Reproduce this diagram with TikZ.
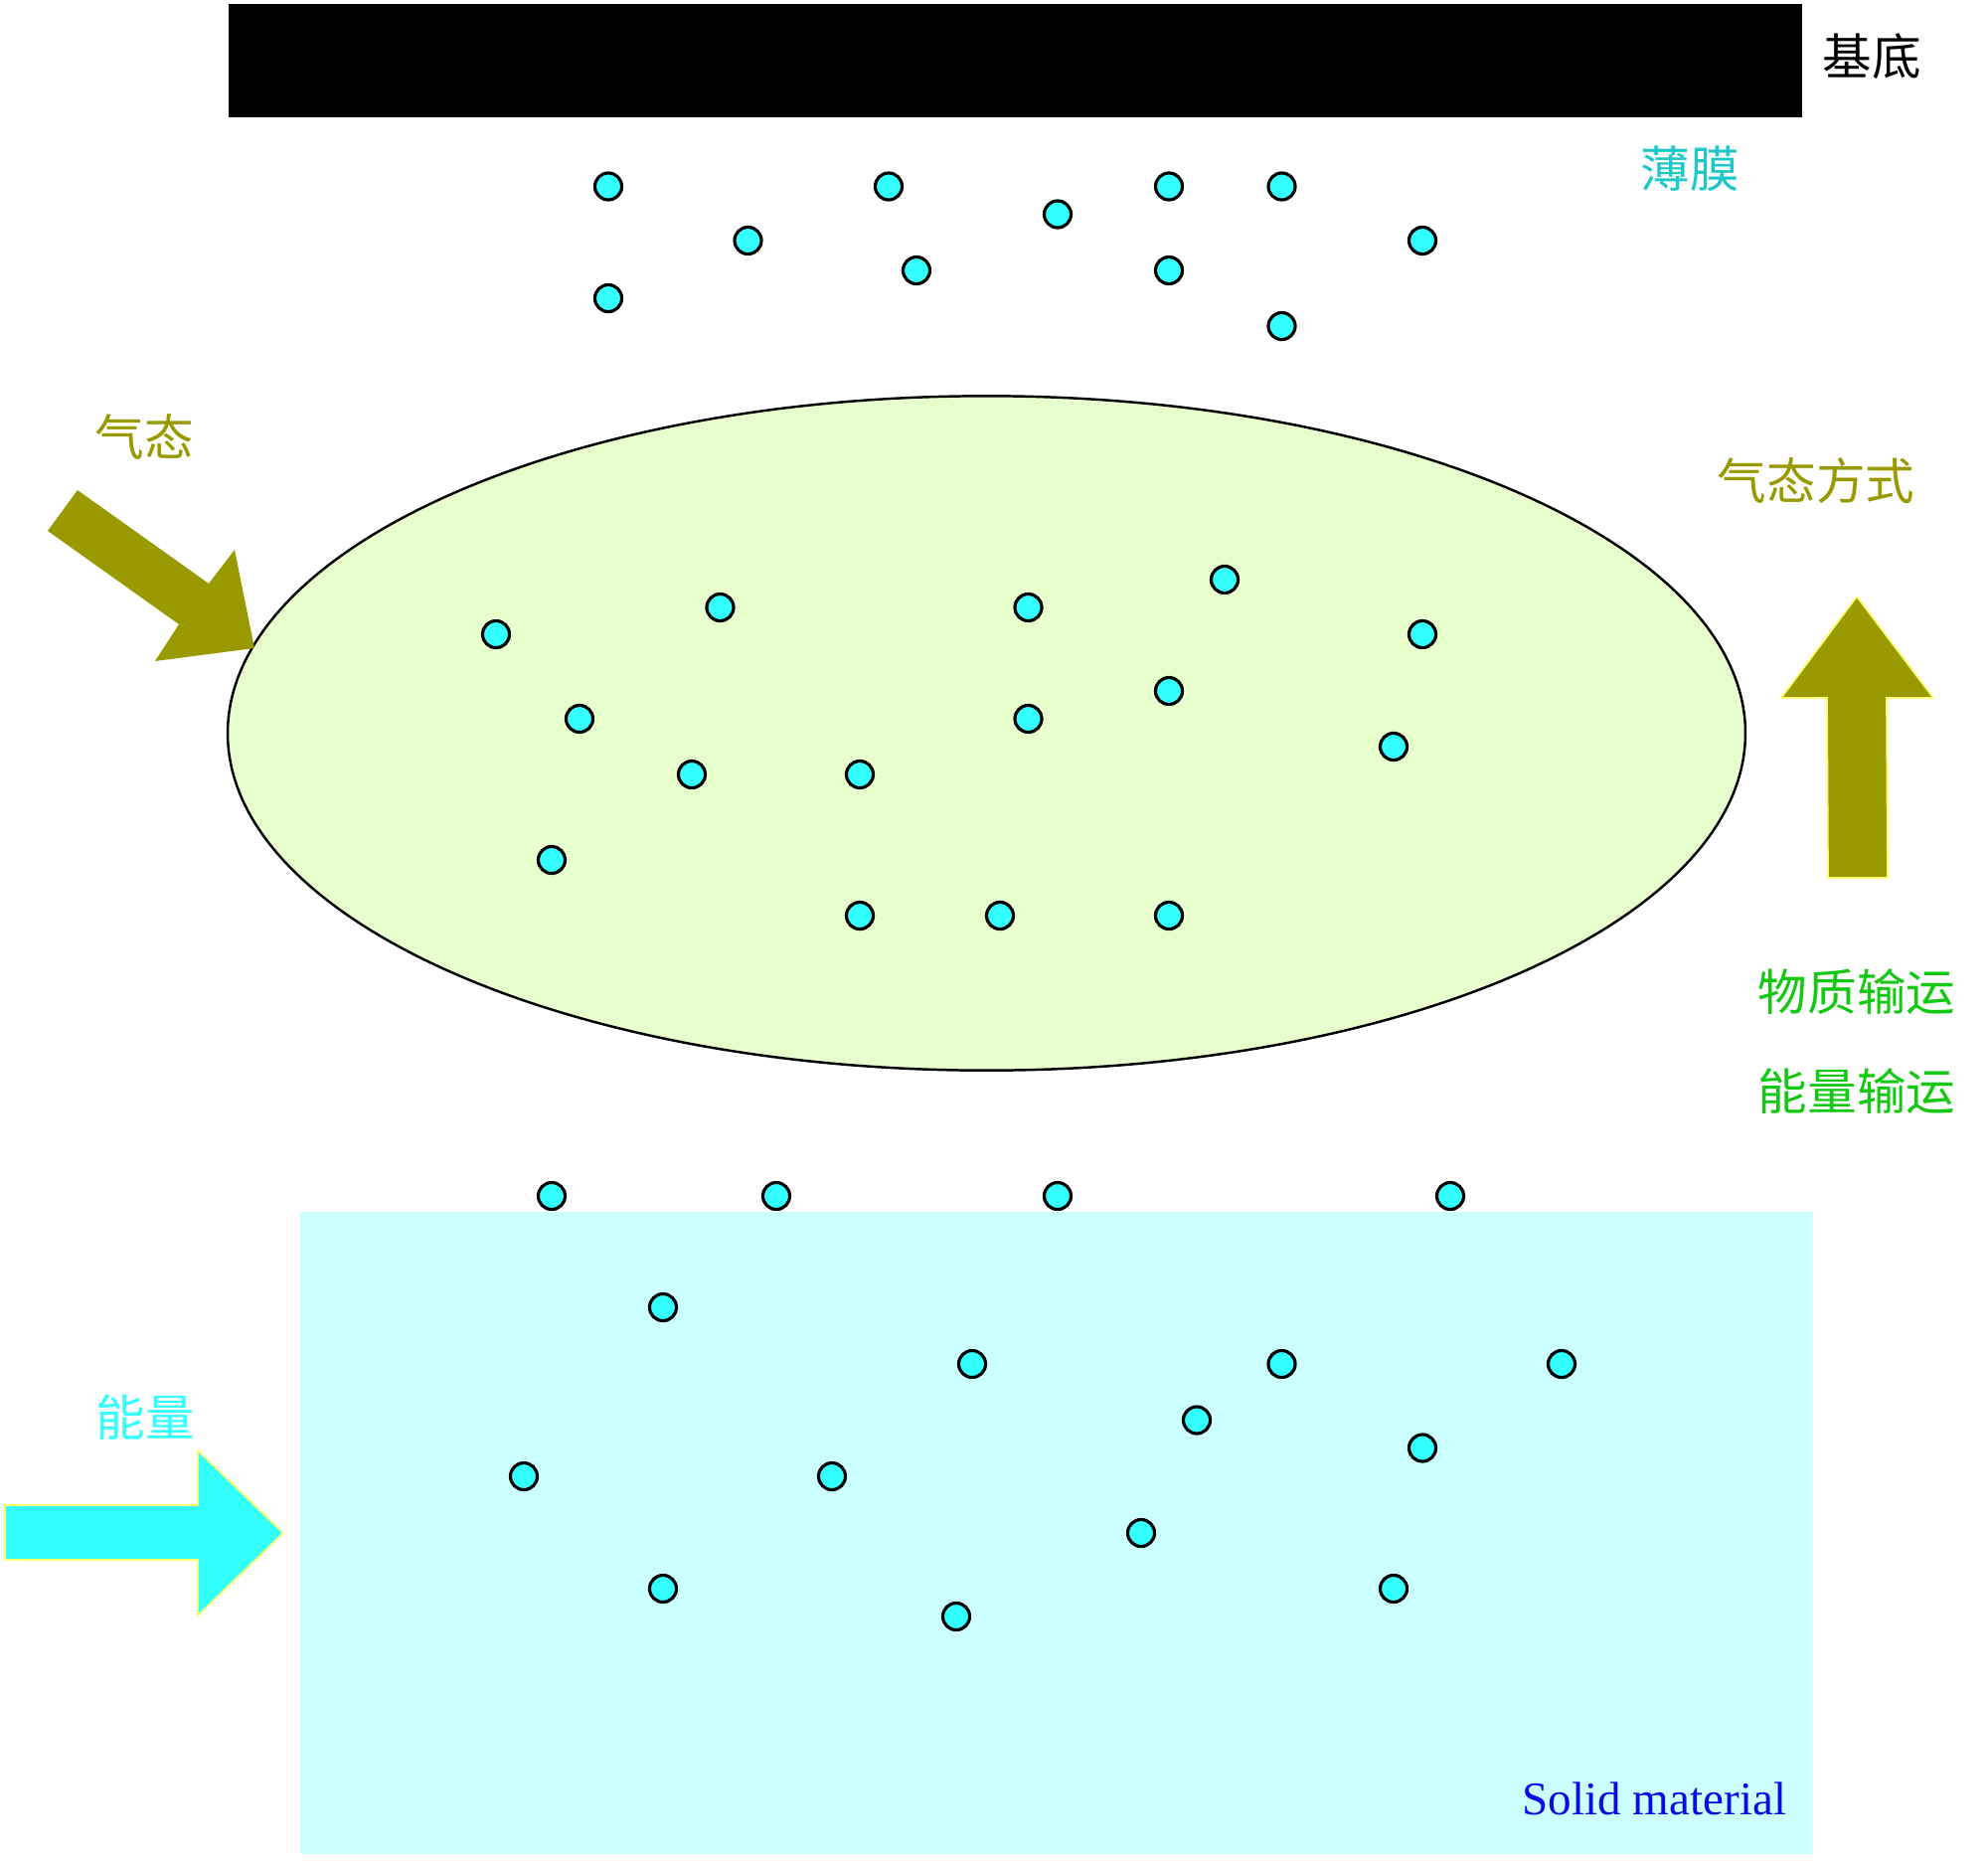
\documentclass[tikz,border=0pt]{standalone}
\usepackage{fontspec}
\setmainfont{Liberation Serif}
\newfontfamily\cjk{Noto Sans CJK SC}
\usepackage{tikz}
\usetikzlibrary{positioning}
\definecolor{olivearrow}{RGB}{153,153,0}
\definecolor{particle}{RGB}{51,255,255}
\definecolor{gasfill}{RGB}{230,255,204}
\definecolor{solidfill}{RGB}{204,255,255}
\definecolor{filmtext}{RGB}{30,200,200}
\definecolor{transtext}{RGB}{20,200,20}
\definecolor{edgeyellow}{RGB}{255,255,110}
\definecolor{solidblue}{RGB}{10,10,230}

\begin{document}
\begin{tikzpicture}[x=0.01cm, y=-0.01cm, cjktext/.style={font=\cjk\fontsize{14.1pt}{17pt}\selectfont, inner sep=0pt}, atom/.style={fill=particle, draw=black, line width=0.9pt}, bigarrow/.style={draw=edgeyellow, line width=0.5pt}]
		\useasboundingbox (0,0) rectangle (2000,1875);
		% substrate, gas cloud and solid source
		\fill[black] (230,4) rectangle (1813,118);
		\fill[solidfill] (302,1219) rectangle (1824,1865);
		\draw[fill=gasfill, line width=0.7pt] (992.5,737.5) ellipse [x radius=7.63cm, y radius=3.39cm];
		% particles
		\foreach \p in {(612,187.5),(894,187.5),(1176,187.5),(1289.5,187.5),(752.5,242),(1064,215.5),(1431,242),(922,272),(1176,272),(612,300),(1289.5,328)}
			\draw[atom] \p circle[radius=0.135cm];
		\foreach \p in {(499,638),(724.5,611),(1034.5,611),(1232,583),(1431,638),(583,723),(696,779),(865,779),(1034.5,723),(1176,695),(1402,751),(555,865),(865,921),(1006,921),(1176,921)}
			\draw[atom] \p circle[radius=0.135cm];
		\foreach \p in {(555,1203),(781,1203),(1064,1203),(1459,1203),(667,1315),(978,1372),(1289.5,1372),(1571,1372),(1204,1428.5),(1431,1456.5),(527,1485),(837,1485),(1148,1542),(667,1598),(1402,1598),(962,1626)}
			\draw[atom] \p circle[radius=0.135cm];
		% arrows
		\fill[olivearrow] (78,493) -- (210,587) -- (236,553) -- (256,652) -- (156,665) -- (180,628) -- (48,534) -- cycle;
		\draw[bigarrow, fill=olivearrow] (1839,883) -- (1838,702) -- (1792,702) -- (1868,600) -- (1945,702) -- (1898,702) -- (1899,883) -- cycle;
		\draw[bigarrow, fill=particle] (5,1514) -- (199,1514) -- (199,1459) -- (285,1542) -- (199,1625) -- (199,1569) -- (5,1569) -- cycle;
		% labels
		\node[cjktext] (substrate) at (1883,57) {基底};
		\node[cjktext, text=filmtext] (film) at (1700,170) {薄膜};
		\node[cjktext, text=olivearrow] (gas) at (145,440) {气态};
		\node[cjktext, text=olivearrow] (gasmode) at (1827,484) {气态方式};
		\node[cjktext, text=transtext] (mass) at (1868,998) {物质输运};
		\node[cjktext, text=transtext] (heat) at (1868,1098) {能量输运};
		\node[cjktext, text=particle] (energy) at (146,1426) {能量};
		\node[font=\fontsize{13.4pt}{16pt}\selectfont, text=solidblue, anchor=base east, inner sep=0pt] (solid) at (1798,1825) {Solid material};
	\end{tikzpicture}
\end{document}
